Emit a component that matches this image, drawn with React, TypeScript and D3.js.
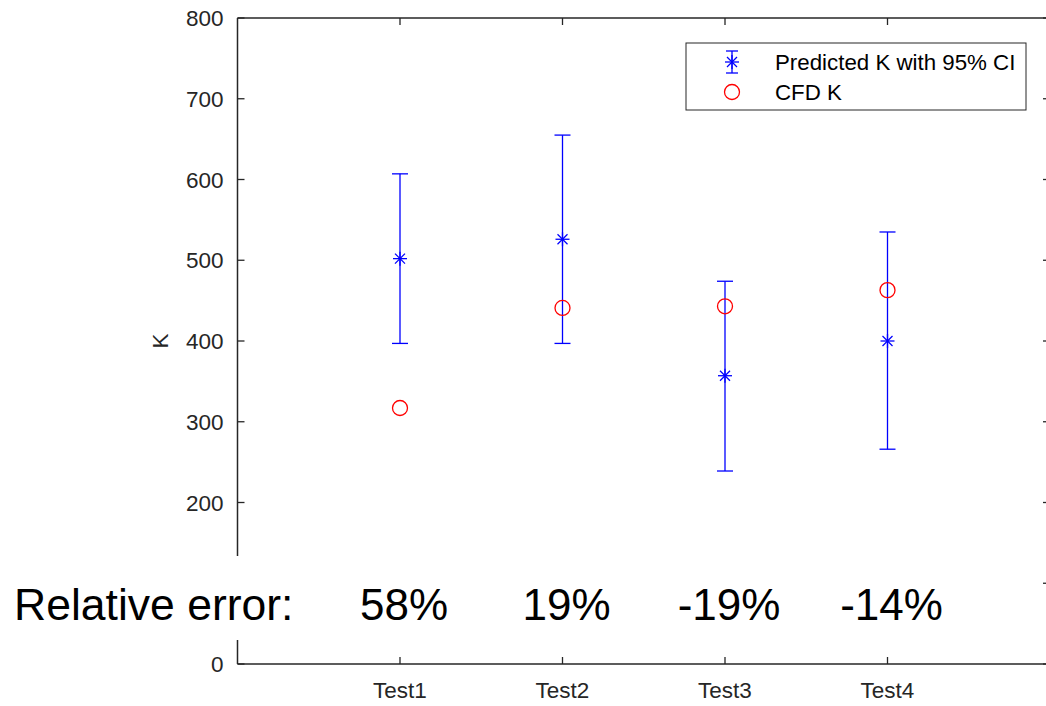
import React from 'react';
import * as d3 from 'd3';

// values
const tests = ['Test1', 'Test2', 'Test3', 'Test4'];
const predictedK = [502, 526, 357, 400];
const upperCI = [607, 655, 474, 535];
const lowerCI = [397, 397, 239, 266];
const cfdK = [317, 441, 443, 463];
const relErrorLabels = ['58%', '19%', '-19%', '-14%'];
const yTicks = [0, 100, 200, 300, 400, 500, 600, 700, 800];
// the 100 label sits under the annotation box in the reference
const hiddenLabels = [100];

const W = 1046;
const H = 706;
const font = '"Liberation Sans", Arial, Helvetica, sans-serif';
const axisColor = '#262626';

const App = () => {
  const x = d3.scaleLinear().domain([0, 5]).range([237.5, 1050]);
  const y = d3.scaleLinear().domain([0, 800]).range([664, 18]);

  const left = x(0);
  const right = x(5);
  const top = y(800);
  const bottom = y(0);
  const tickLen = 7;
  const cap = 8;

  // MATLAB style '*' marker
  const star = (cx: number, cy: number, key: string) => {
    const a = 7;
    const b = 5;
    return (
      <g key={key} stroke="#0000ff" strokeWidth={1.3}>
        <line x1={cx - a} x2={cx + a} y1={cy} y2={cy} />
        <line x1={cx} x2={cx} y1={cy - a} y2={cy + a} />
        <line x1={cx - b} x2={cx + b} y1={cy - b} y2={cy + b} />
        <line x1={cx - b} x2={cx + b} y1={cy + b} y2={cy - b} />
      </g>
    );
  };

  return (
    <div style={{ position: 'absolute', left: 0, top: 0, width: W, height: H, background: '#fff' }}>
      <svg width={W} height={H} style={{ display: 'block' }}>
        <rect x={0} y={0} width={W} height={H} fill="#fff" />

        {/* axes box */}
        <g stroke={axisColor} strokeWidth={1.5} fill="none">
          <line x1={left} x2={left} y1={top} y2={bottom} />
          <line x1={right} x2={right} y1={top} y2={bottom} />
          <line x1={left} x2={right} y1={top} y2={top} />
          <line x1={left} x2={right} y1={bottom} y2={bottom} />
        </g>

        {/* y ticks */}
        {yTicks.map((t) => (
          <g key={'yt' + t}>
            <line x1={left} x2={left + tickLen} y1={y(t)} y2={y(t)} stroke={axisColor} strokeWidth={1.3} />
            <line x1={right} x2={right - tickLen} y1={y(t)} y2={y(t)} stroke={axisColor} strokeWidth={1.3} />
            {hiddenLabels.includes(t) ? null : (
              <text
                x={left - 14}
                y={y(t)}
                dy="0.36em"
                textAnchor="end"
                fontFamily={font}
                fontSize={22.5}
                fill={axisColor}
              >
                {t}
              </text>
            )}
          </g>
        ))}

        {/* x ticks */}
        {tests.map((name, i) => (
          <g key={'xt' + name}>
            <line x1={x(i + 1)} x2={x(i + 1)} y1={bottom} y2={bottom - tickLen} stroke={axisColor} strokeWidth={1.3} />
            <line x1={x(i + 1)} x2={x(i + 1)} y1={top} y2={top + tickLen} stroke={axisColor} strokeWidth={1.3} />
            <text x={x(i + 1)} y={698} textAnchor="middle" fontFamily={font} fontSize={22.5} fill={axisColor}>
              {name}
            </text>
          </g>
        ))}

        <text
          transform={`translate(168,${y(400)}) rotate(-90)`}
          textAnchor="middle"
          fontFamily={font}
          fontSize={22.5}
          fill={axisColor}
        >
          K
        </text>

        {/* error bars */}
        {tests.map((name, i) => {
          const cx = x(i + 1);
          return (
            <g key={'eb' + name} stroke="#0000ff" strokeWidth={1.3}>
              <line x1={cx} x2={cx} y1={y(upperCI[i])} y2={y(lowerCI[i])} />
              <line x1={cx - cap} x2={cx + cap} y1={y(upperCI[i])} y2={y(upperCI[i])} />
              <line x1={cx - cap} x2={cx + cap} y1={y(lowerCI[i])} y2={y(lowerCI[i])} />
            </g>
          );
        })}
        {tests.map((name, i) => star(x(i + 1), y(predictedK[i]), 'st' + name))}

        {/* CFD circles */}
        {tests.map((name, i) => (
          <circle key={'c' + name} cx={x(i + 1)} cy={y(cfdK[i])} r={7.5} fill="none" stroke="#ff0000" strokeWidth={1.3} />
        ))}

        {/* legend */}
        <g>
          <rect x={686} y={43} width={340} height={67} fill="#fff" stroke={axisColor} strokeWidth={1} />
          <g stroke="#0000ff" strokeWidth={1.3}>
            <line x1={732} x2={732} y1={51} y2={73} />
            <line x1={726} x2={738} y1={51} y2={51} />
            <line x1={726} x2={738} y1={73} y2={73} />
          </g>
          {star(732, 62, 'legstar')}
          <text x={775} y={62} dy="0.36em" fontFamily={font} fontSize={22.3} fill="#000">
            Predicted K with 95% CI
          </text>
          <circle cx={732} cy={92} r={7.5} fill="none" stroke="#ff0000" strokeWidth={1.3} />
          <text x={775} y={92} dy="0.36em" fontFamily={font} fontSize={22.3} fill="#000">
            CFD K
          </text>
        </g>

        {/* relative error annotation */}
        <rect x={0} y={556} width={1000} height={84} fill="#fff" />
        <text x={14} y={620} fontFamily={font} fontSize={44.5} fill="#000">
          Relative error:
        </text>
        {relErrorLabels.map((lab, i) => (
          <text
            key={'re' + i}
            x={x(i + 1) + 4}
            y={620}
            textAnchor="middle"
            fontFamily={font}
            fontSize={44}
            fill="#000"
          >
            {lab}
          </text>
        ))}
      </svg>
    </div>
  );
};

export default App;
